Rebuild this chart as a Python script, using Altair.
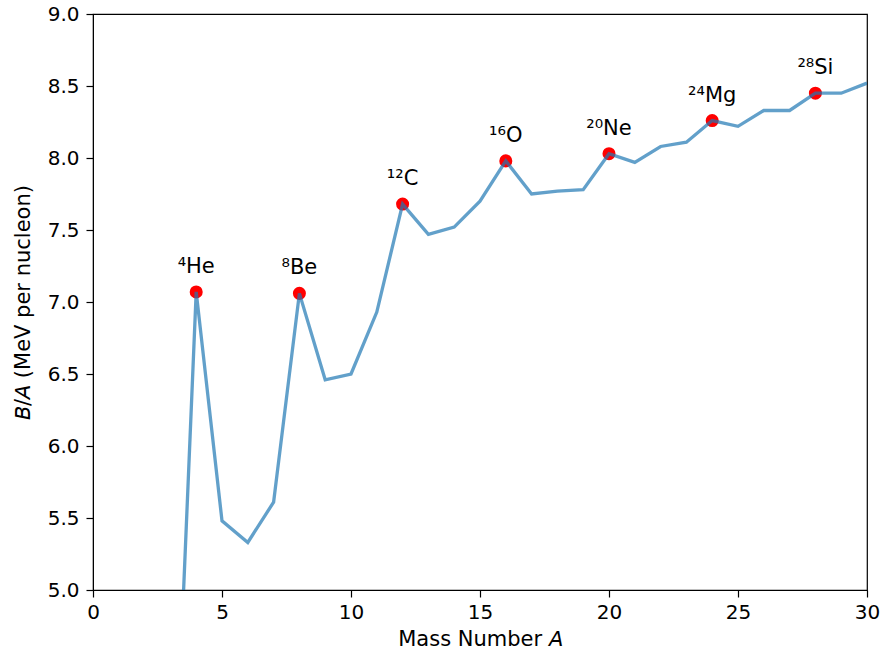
import altair as alt
import pandas as pd

mass_number = [2, 3, 4, 5, 6, 7, 8, 9, 10, 11, 12, 13, 14, 15, 16, 17, 18, 19, 20,
               21, 22, 23, 24, 25, 26, 27, 28, 29, 30]
binding = [1.11, 2.83, 7.07, 5.48, 5.33, 5.61, 7.06, 6.46, 6.50, 6.93, 7.68, 7.47,
           7.52, 7.70, 7.98, 7.75, 7.77, 7.78, 8.03, 7.97, 8.08, 8.11, 8.26, 8.22,
           8.33, 8.33, 8.45, 8.45, 8.52]

alpha_a = [4, 8, 12, 16, 20, 24, 28]
alpha_b = [7.07, 7.06, 7.68, 7.98, 8.03, 8.26, 8.45]
alpha_names = ["⁴He", "⁸Be", "¹²C", "¹⁶O", "²⁰Ne", "²⁴Mg", "²⁸Si"]

line_df = pd.DataFrame({"A": mass_number, "B": binding})
pts_df = pd.DataFrame({"A": alpha_a, "B": alpha_b, "name": alpha_names})

FONT = "DejaVu Sans"

x = alt.X("A:Q", scale=alt.Scale(domain=[0, 30], nice=False, zero=False),
          axis=alt.Axis(values=[0, 5, 10, 15, 20, 25, 30], title="Mass Number 𝘈",
                        labelFlush=False))
y = alt.Y("B:Q", scale=alt.Scale(domain=[5, 9], nice=False, zero=False),
          axis=alt.Axis(values=[5.0, 5.5, 6.0, 6.5, 7.0, 7.5, 8.0, 8.5, 9.0], format=".1f",
                        title="𝘉/𝘈 (MeV per nucleon)"))

points = alt.Chart(pts_df).mark_circle(color="red", size=170, opacity=1).encode(x=x, y=y)
line = alt.Chart(line_df).mark_line(color="#1f77b4", opacity=0.7, strokeWidth=3.3, clip=True).encode(x=x, y=y)
labels = alt.Chart(pts_df).mark_text(font=FONT, fontSize=21, dy=-19, baseline="alphabetic",
                                     color="black").encode(x=x, y=y, text="name:N")

chart = alt.layer(points, line, labels).properties(
    width=774, height=576,
    autosize=alt.AutoSizeParams(type="none"),
    padding={"left": 93, "top": 14, "right": 16, "bottom": 64},
).configure_view(stroke="black", strokeWidth=1.2).configure_axis(
    grid=False, domainColor="black", tickColor="black", tickSize=7, tickWidth=1.2,
    labelFont=FONT, titleFont=FONT, labelFontSize=20, titleFontSize=21,
    labelColor="black", titleColor="black", titleFontWeight="normal",
).configure_axisX(labelPadding=5, titlePadding=6).configure_axisY(labelPadding=7, titlePadding=14)

chart.save("out.html", embed_options={"renderer": "svg", "actions": False})
